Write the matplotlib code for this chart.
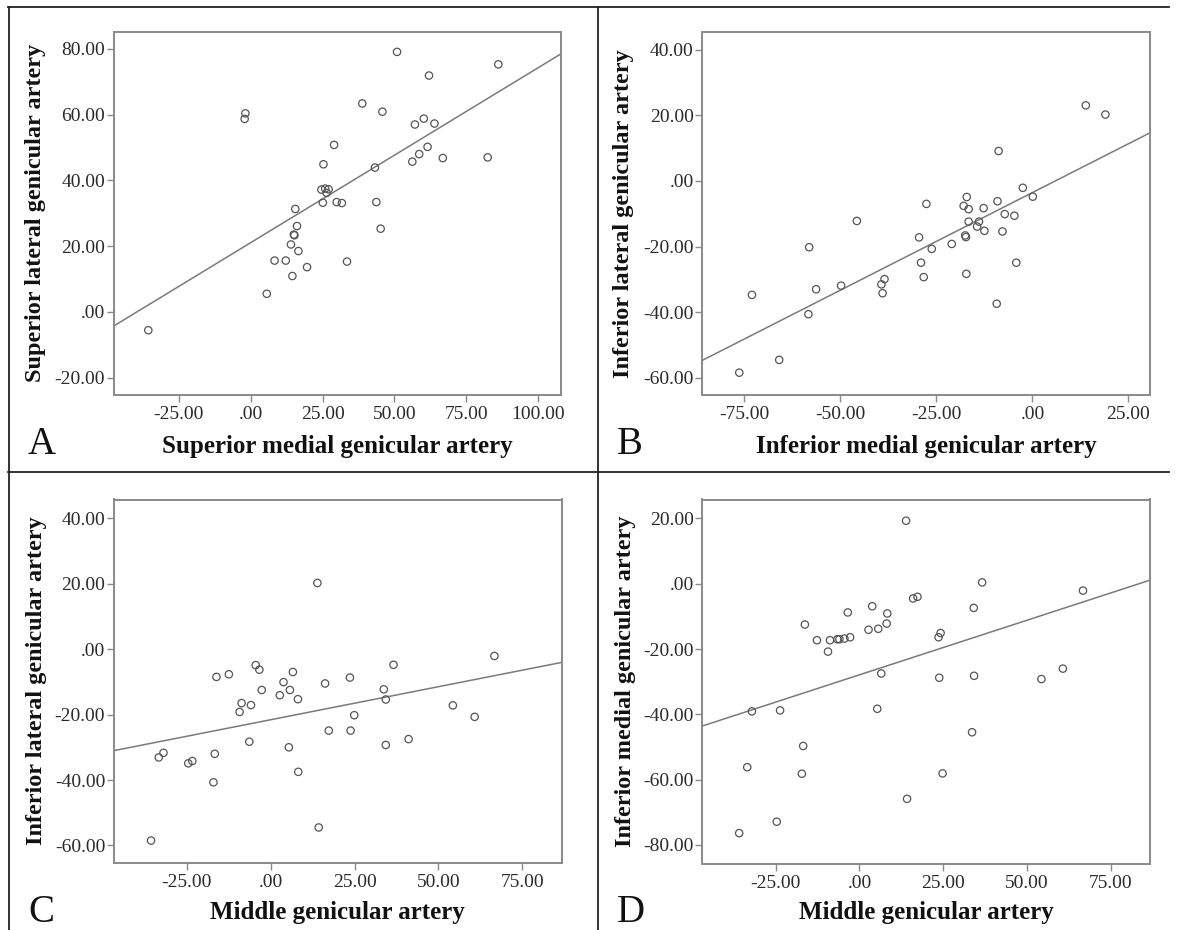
import matplotlib
matplotlib.use("Agg")
import matplotlib.pyplot as plt
from matplotlib.lines import Line2D
import numpy as np

plt.rcParams['font.family'] = ['Liberation Serif', 'DejaVu Serif']

# ---------------- data ----------------
# Panel A: superior medial (x) vs superior lateral (y)
a_x = [-35.6, -1.85, -2.1, 5.6, 8.3, 12.2, 14.5, 14.0, 15.2, 15.0,
       15.5, 16.1, 16.6, 19.6, 25.3, 24.6, 25.1, 25.9, 26.4, 27.1,
       29.0, 29.9, 31.7, 33.5, 38.8, 43.2, 43.7, 45.2, 45.8, 50.9,
       56.2, 57.1, 58.6, 60.2, 61.5, 62.0, 63.9, 66.8, 82.4, 86.1]
a_y = [-5.6, 60.4, 58.7, 5.5, 15.6, 15.6, 10.9, 20.5, 23.3, 23.5,
       31.3, 26.1, 18.5, 13.6, 44.9, 37.2, 33.2, 37.5, 36.2, 37.3,
       50.8, 33.4, 33.1, 15.3, 63.4, 43.9, 33.4, 25.3, 60.9, 79.1,
       45.7, 57.0, 48.0, 58.8, 50.2, 71.9, 57.3, 46.8, 47.0, 75.3]
a_fit = (0.5325, 21.05)

# Panel B: inferior medial (x) vs inferior lateral (y)
b_x = [-76.3, -73.0, -65.9, -58.3, -58.1, -56.3, -49.8, -45.7, -39.3, -39.0,
       -38.5, -29.5, -29.0, -28.3, -27.6, -26.2, -21.0, -17.9, -17.5, -17.3,
       -17.2, -17.1, -16.6, -16.6, -14.4, -13.9, -12.7, -12.5, -9.3, -9.1,
       -8.8, -7.8, -7.2, -4.7, -4.2, -2.5, 0.1, 13.9, 19.0]
b_y = [-58.4, -34.7, -54.5, -40.6, -20.2, -33.0, -31.9, -12.2, -31.5, -34.2,
       -29.9, -17.2, -24.9, -29.3, -7.0, -20.7, -19.2, -7.6, -16.6, -17.1,
       -28.3, -4.9, -8.6, -12.4, -13.9, -12.4, -8.3, -15.2, -37.4, -6.2,
       9.1, -15.4, -10.1, -10.6, -24.9, -2.1, -4.8, 23.0, 20.2]
b_fit = (0.5948, -3.55)

# Panel C: middle (x) vs inferior lateral (y)
c_x = [-35.7, -33.4, -32.0, -24.6, -23.4, -17.1, -16.7, -16.2, -12.5, -9.3,
       -8.7, -6.4, -5.9, -4.5, -3.4, -2.7, 2.7, 3.8, 5.4, 5.7,
       6.6, 8.1, 8.2, 13.9, 14.3, 16.2, 17.3, 23.6, 23.8, 24.9,
       33.7, 34.3, 34.3, 36.6, 41.1, 54.3, 60.8, 66.7]
c_y = [-58.5, -33.1, -31.7, -34.9, -34.2, -40.7, -32.0, -8.5, -7.7, -19.2,
       -16.5, -28.3, -17.1, -4.9, -6.3, -12.5, -14.1, -10.1, -30.0, -12.5,
       -7.0, -15.3, -37.5, 20.2, -54.5, -10.5, -24.9, -8.7, -24.9, -20.2,
       -12.3, -15.4, -29.3, -4.8, -27.5, -17.2, -20.7, -2.1]
c_fit = (0.2018, -21.58)

# Panel D: middle (x) vs inferior medial (y)
d_x = [-35.9, -33.5, -32.1, -24.7, -23.7, -17.2, -16.8, -16.3, -12.7, -9.4,
       -8.8, -6.6, -6.0, -4.5, -3.5, -2.8, 2.7, 3.8, 5.3, 5.6,
       6.5, 8.1, 8.3, 13.9, 14.2, 16.0, 17.3, 23.6, 23.8, 24.2,
       24.8, 33.6, 34.1, 34.2, 36.6, 54.3, 60.7, 66.7]
d_y = [-76.4, -56.2, -39.1, -72.9, -38.8, -58.2, -49.7, -12.5, -17.3, -20.8,
       -17.3, -17.0, -17.0, -16.8, -8.8, -16.4, -14.1, -6.9, -38.3, -13.8,
       -27.5, -12.2, -9.1, 19.3, -65.9, -4.5, -4.0, -16.4, -28.8, -15.1,
       -58.1, -45.5, -7.4, -28.2, 0.4, -29.2, -26.0, -2.1]
d_fit = (0.3344, -27.9)

panels = [
    dict(letter="A", x=a_x, y=a_y, fit=a_fit,
         xlabel="Superior medial genicular artery",
         ylabel="Superior lateral genicular artery",
         xlim=(-47.7, 107.9), ylim=(-25.3, 85.3),
         xticks=[-25, 0, 25, 50, 75, 100], yticks=[-20, 0, 20, 40, 60, 80]),
    dict(letter="B", x=b_x, y=b_y, fit=b_fit,
         xlabel="Inferior medial genicular artery",
         ylabel="Inferior lateral genicular artery",
         xlim=(-86.0, 30.6), ylim=(-65.2, 45.5),
         xticks=[-75, -50, -25, 0, 25], yticks=[-60, -40, -20, 0, 20, 40]),
    dict(letter="C", x=c_x, y=c_y, fit=c_fit,
         xlabel="Middle genicular artery",
         ylabel="Inferior lateral genicular artery",
         xlim=(-46.9, 86.7), ylim=(-65.2, 45.7),
         xticks=[-25, 0, 25, 50, 75], yticks=[-60, -40, -20, 0, 20, 40]),
    dict(letter="D", x=d_x, y=d_y, fit=d_fit,
         xlabel="Middle genicular artery",
         ylabel="Inferior medial genicular artery",
         xlim=(-47.0, 86.7), ylim=(-85.7, 25.8),
         xticks=[-25, 0, 25, 50, 75], yticks=[-80, -60, -40, -20, 0, 20]),
]

W, H = 1177, 930
fig = plt.figure(figsize=(W / 100, H / 100), dpi=100)
fig.patch.set_facecolor("white")


def fx(px):
    return px / W


def fy(py):
    return 1 - py / H


def fmt(v):
    s = "%.2f" % v
    if s.startswith("0."):
        s = s[1:]
    elif s.startswith("-0."):
        s = "-" + s[2:]
    return s


# axes rectangles in pixel coords (left, right, top, bottom)
rects = [
    (113.5, 561.0, 31.5, 395.0),
    (702.0, 1150.0, 31.5, 395.0),
    (113.5, 561.5, 499.5, 862.5),
    (702.0, 1150.0, 499.5, 863.5),
]
# label positions in pixel coords
ylabel_x = [36, 624, 37, 625]
xlabel_y = [446, 446, 912, 912]
letter_pos = [(28, 454), (617, 454), (28, 922), (617, 922)]

frame_col = "#8a8a8a"

for p, r, ylx, xly, lp in zip(panels, rects, ylabel_x, xlabel_y, letter_pos):
    l, rr, t, b = r
    ax = fig.add_axes([fx(l), fy(b), fx(rr) - fx(l), fy(t) - fy(b)])
    ax.set_xlim(*p["xlim"])
    ax.set_ylim(*p["ylim"])
    for s in ax.spines.values():
        s.set_color(frame_col)
        s.set_linewidth(1.4)
    ax.scatter(p["x"], p["y"], s=28, facecolors="none", edgecolors="#555555",
               linewidths=0.9, zorder=3)
    xs = np.array(p["xlim"])
    slope, inter = p["fit"]
    ax.plot(xs, slope * xs + inter, color="#7a7a7a", lw=1.1, zorder=2)
    ax.set_xticks(p["xticks"])
    ax.set_yticks(p["yticks"])
    ax.set_xticklabels([fmt(v) for v in p["xticks"]])
    ax.set_yticklabels([fmt(v) for v in p["yticks"]])
    ax.tick_params(axis="both", direction="out", length=5, width=1.0,
                   color=frame_col, labelcolor="#2a2a2a", labelsize=14)
    ax.tick_params(axis="y", pad=1)
    ax.tick_params(axis="x", pad=3)
    # axis labels
    fig.text(fx((l + rr) / 2), fy(xly), p["xlabel"], ha="center", va="center",
             fontsize=18, fontweight="bold", color="#111111")
    fig.text(fx(ylx), fy((t + b) / 2), p["ylabel"], ha="center", va="center",
             rotation=90, fontsize=17.5, fontweight="bold", color="#111111")
    fig.text(fx(lp[0]), fy(lp[1]), p["letter"], ha="left", va="baseline",
             fontsize=28, color="#111111")

# panel borders
lc = "#222222"
lw = 1.3
fig.add_artist(Line2D([fx(8), fx(1169)], [fy(7.5), fy(7.5)], color=lc, lw=lw))
fig.add_artist(Line2D([fx(8.5), fx(8.5)], [fy(7.5), fy(930)], color=lc, lw=lw))
fig.add_artist(Line2D([fx(597.5), fx(597.5)], [fy(7.5), fy(930)], color=lc, lw=lw))
fig.add_artist(Line2D([fx(8), fx(1169)], [fy(472), fy(472)], color=lc, lw=lw))

fig.savefig("out.png", dpi=100, facecolor="white")
